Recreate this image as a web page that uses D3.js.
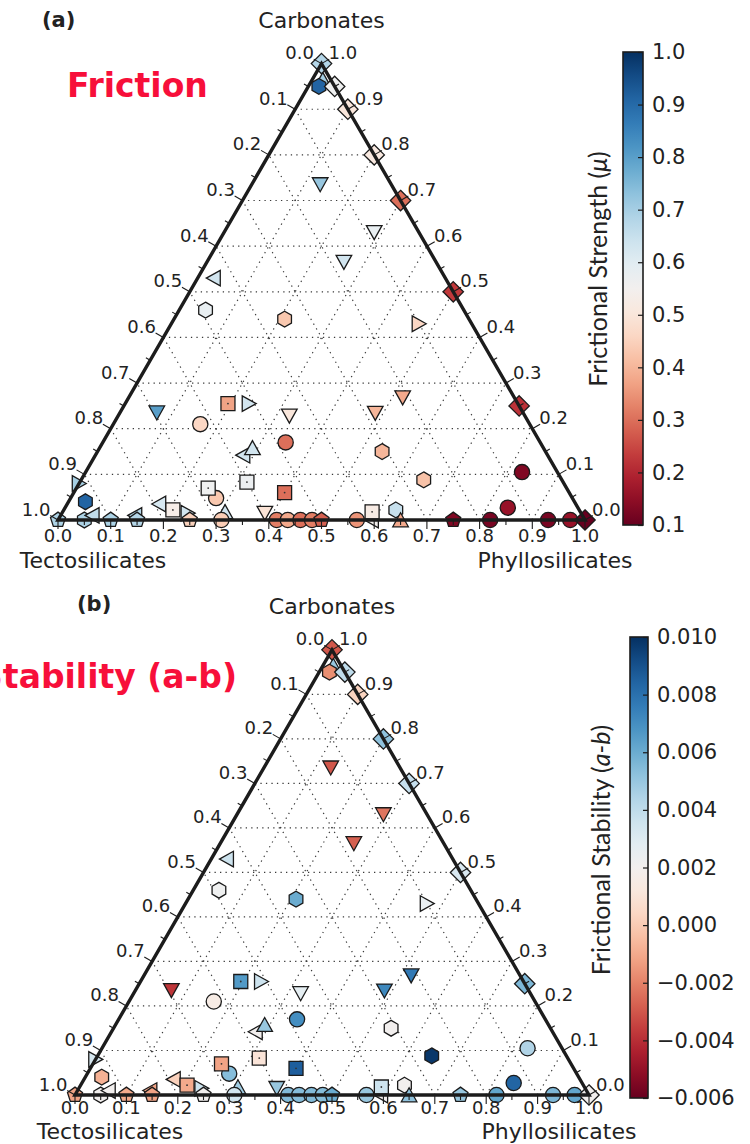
<!DOCTYPE html>
<html>
<head>
<meta charset="utf-8">
<script src="https://cdn.jsdelivr.net/npm/d3@7"></script>
<style>
  body { margin: 0; background: #fff; }
  svg { display: block; }
</style>
</head>
<body>
<svg id="fig" width="750" height="1144"></svg>
<script>
// ---- Sample compositions (fractions). Tectosilicate fraction = 1 - phyllo - carb ----
// Marker codes: o circle, s square, D diamond, ^ v < > triangles, p pentagon, h hexagon
const markers = [
  "v","v","v","<","h","h",">","v","s",">","v","v","v","o","o","<","^","h","o","h",
  "s",">","o","s","s","h","<","o","h","s",">","^","v",
  "p","h","<","p","<","p","p","o","o","o","o","o","p","o","<","s","^","p","o","o","o",
  "^","h",
  "D","D","D","D","D","D","D","D"
];
const phyllo = [
  0.13, 0.285, 0.26, 0.03, 0.05, 0.21, 0.47, 0.52, 0.195, 0.235, 0.07, 0.485, 0.325, 0.165, 0.347, 0.28, 0.29, 0.54, 0.828, 0.65,
  0.317, 0.0, 0.276, 0.25, 0.40, 0.032, 0.174, 0.84, 0.63, 0.207, 0.239, 0.308, 0.385,
  0.0, 0.05, 0.06, 0.10, 0.141, 0.15, 0.25, 0.31, 0.415, 0.436, 0.46, 0.482, 0.50, 0.567, 0.595, 0.587, 0.65, 0.75, 0.82, 0.93, 0.972,
  0.02, 0.02,
  1.0, 0.75, 0.5, 0.3, 0.2, 0.1, 0.05, 0.0
];
const carb = [
  0.735, 0.63, 0.565, 0.53, 0.46, 0.44, 0.43, 0.268, 0.255, 0.255, 0.235, 0.234, 0.228, 0.21, 0.17, 0.142, 0.158, 0.15, 0.105, 0.088,
  0.083, 0.08, 0.048, 0.07, 0.06, 0.04, 0.035, 0.027, 0.022, 0.022, 0.015, 0.018, 0.015,
  0, 0, 0.01, 0, 0.01, 0, 0, 0, 0, 0, 0, 0, 0, 0, 0, 0.018, 0, 0, 0, 0, 0,
  0.965, 0.95,
  0.0, 0.25, 0.5, 0.7, 0.8, 0.9, 0.95, 1.0
];
// Frictional strength (mu) of each sample
const frictionMu = [
  0.72, 0.58, 0.63, 0.63, 0.58, 0.43, 0.46, 0.38, 0.37, 0.63, 0.80, 0.40, 0.50, 0.46, 0.30, 0.63, 0.63, 0.40, 0.13, 0.42,
  0.57, 0.70, 0.43, 0.56, 0.30, 0.91, 0.62, 0.16, 0.65, 0.53, 0.63, 0.63, 0.49,
  0.69, 0.69, 0.66, 0.69, 0.68, 0.68, 0.45, 0.44, 0.32, 0.38, 0.30, 0.32, 0.28, 0.35, 0.55, 0.52, 0.38, 0.13, 0.12, 0.12, 0.16,
  0.70, 0.91,
  0.10, 0.22, 0.23, 0.30, 0.51, 0.50, 0.56, 0.68
];
// Frictional stability (a-b) of each sample
const stabilityAB = [
  -0.0030, -0.0023, -0.0028, 0.0036, 0.0022, 0.0060, 0.0025, 0.0077, 0.0066, 0.0036, -0.0038, 0.0072, 0.0027, 0.0015, 0.0070, 0.0020, 0.0050, 0.0020, 0.0044, 0.0098,
  0.0010, 0.0033, 0.0054, -0.0012, 0.0086, -0.0008, 0.0002, 0.0084, 0.0020, -0.0010, 0.0036, 0.0048, 0.0050,
  -0.0012, 0.0020, 0.0020, -0.0010, -0.0012, -0.0012, 0.0020, 0.0034, 0.0055, 0.0054, 0.0055, 0.0054, 0.0060, 0.0050, 0.0020, 0.0036, 0.0052, 0.0050, 0.0062, 0.0056, 0.0062,
  0.0050, -0.0017,
  0.0020, 0.0056, 0.0032, 0.0038, 0.0052, 0.0003, 0.0040, -0.0030
];

// Axis and colour-bar ticks
const ternaryTicks = d3.range(0, 11).map(i => i / 10);
const ternaryMinor = d3.range(0, 10).map(i => i / 10 + 0.05);
const muTicks = [0.1, 0.2, 0.3, 0.4, 0.5, 0.6, 0.7, 0.8, 0.9, 1.0];
const abTicks = [-0.006, -0.004, -0.002, 0.000, 0.002, 0.004, 0.006, 0.008, 0.010];

const samples = markers.map((m, i) => ({ m, P: phyllo[i], C: carb[i], mu: frictionMu[i], ab: stabilityAB[i] }));

const svg = d3.select("#fig");
const INK = "#222";
const NUM_FONT = "'DejaVu Sans', sans-serif";

// ---- marker shapes ----
function ngon(n, r) {
  return d3.range(n).map(i => {
    const a = i * 2 * Math.PI / n;
    return [r * Math.sin(a), -r * Math.cos(a)];
  });
}
const shapePts = {
  s: [[-7, -7], [7, -7], [7, 7], [-7, 7]],
  D: [[0, -10.2], [10.2, 0], [0, 10.2], [-10.2, 0]],
  "^": [[0, -7.2], [7.8, 6.8], [-7.8, 6.8]],
  "v": [[0, 7.2], [7.8, -6.8], [-7.8, -6.8]],
  "<": [[-7.2, 0], [6.8, -7.8], [6.8, 7.8]],
  ">": [[7.2, 0], [-6.8, -7.8], [-6.8, 7.8]],
  p: ngon(5, 7.9),
  h: ngon(6, 7.9)
};
const closedLine = d3.line().curve(d3.curveLinearClosed);
function markerPath(m) {
  if (m === "o") return d3.symbol().type(d3.symbolCircle).size(Math.PI * 7.6 * 7.6)();
  return closedLine(shapePts[m]);
}

function drawPanel(p) {
  const g = svg.append("g");
  const W = p.right - p.left;
  const H = W * Math.sqrt(3) / 2;
  const xs = d3.scaleLinear().domain([0, 1]).range([p.left, p.right]);
  const ys = d3.scaleLinear().domain([0, 1]).range([p.base, p.base - H]);
  const pt = (P, C) => [xs(P + C / 2), ys(C)];
  const color = d3.scaleSequential(d3.interpolateRdBu).domain(p.domain);

  // dotted grid in the three composition directions
  const levels = d3.range(1, 10).map(i => i / 10);
  const gridSegs = [];
  levels.forEach(v => {
    gridSegs.push([pt(0, v), pt(1 - v, v)]);      // constant carbonate
    gridSegs.push([pt(v, 0), pt(v, 1 - v)]);      // constant phyllosilicate
    gridSegs.push([pt(1 - v, 0), pt(0, 1 - v)]);  // constant tectosilicate
  });
  g.append("g").selectAll("line").data(gridSegs).join("line")
    .attr("x1", d => d[0][0]).attr("y1", d => d[0][1])
    .attr("x2", d => d[1][0]).attr("y2", d => d[1][1])
    .attr("stroke", "#3a3a3a").attr("stroke-width", 1.2)
    .attr("stroke-dasharray", "1.3,4.2");

  // sample markers
  const mk = g.append("g").selectAll("g").data(samples).join("g")
    .attr("transform", d => { const q = pt(d.P, d.C); return `translate(${q[0]},${q[1]})`; });
  mk.append("path")
    .attr("d", d => markerPath(d.m))
    .attr("fill", d => color(d[p.key]))
    .attr("stroke", "#1a1a1a").attr("stroke-width", 1.3)
    .attr("stroke-linejoin", "miter");
  mk.filter(d => d.m === "s").append("circle")
    .attr("r", 0.9).attr("fill", "#333");

  // triangle frame
  const BL = pt(0, 0), BR = pt(1, 0), AP = pt(0, 1);
  g.append("path")
    .attr("d", closedLine([BL, BR, AP]))
    .attr("fill", "none").attr("stroke", "#1c1c1c").attr("stroke-width", 3.4)
    .attr("stroke-linejoin", "miter");

  // ticks
  const c30 = Math.sqrt(3) / 2;
  const axes = [
    { pos: v => pt(v, 0), dir: [0, 1] },            // bottom: phyllosilicates
    { pos: v => pt(1 - v, v), dir: [c30, -0.5] },   // right: carbonates
    { pos: v => pt(0, 1 - v), dir: [-c30, -0.5] }   // left: tectosilicates
  ];
  const tickSegs = [];
  axes.forEach(ax => {
    ternaryTicks.forEach(v => { const a = ax.pos(v); tickSegs.push([a, [a[0] + ax.dir[0] * 9, a[1] + ax.dir[1] * 9]]); });
    ternaryMinor.forEach(v => { const a = ax.pos(v); tickSegs.push([a, [a[0] + ax.dir[0] * 5, a[1] + ax.dir[1] * 5]]); });
  });
  g.append("g").selectAll("line").data(tickSegs).join("line")
    .attr("x1", d => d[0][0]).attr("y1", d => d[0][1])
    .attr("x2", d => d[1][0]).attr("y2", d => d[1][1])
    .attr("stroke", "#1c1c1c").attr("stroke-width", 1.1);

  const fmt1 = d3.format(".1f");
  const tl = g.append("g").attr("font-family", NUM_FONT).attr("font-size", 18).attr("fill", INK);
  tl.selectAll("text.b").data(ternaryTicks).join("text").attr("class", "b")
    .attr("x", v => axes[0].pos(v)[0]).attr("y", p.base + p.tickDy)
    .attr("text-anchor", "middle").text(fmt1);
  tl.selectAll("text.r").data(ternaryTicks).join("text").attr("class", "r")
    .attr("x", v => axes[1].pos(v)[0] + 7).attr("y", v => axes[1].pos(v)[1] - 11)
    .attr("dominant-baseline", "central").attr("text-anchor", "start").text(fmt1);
  tl.selectAll("text.l").data(ternaryTicks).join("text").attr("class", "l")
    .attr("x", v => axes[2].pos(v)[0] - 7.5).attr("y", v => axes[2].pos(v)[1] - 11)
    .attr("dominant-baseline", "central").attr("text-anchor", "end").text(fmt1);

  // corner titles
  const tt = g.append("g").attr("font-family", NUM_FONT).attr("font-size", 22).attr("fill", INK).attr("text-anchor", "middle");
  tt.append("text").attr("x", AP[0]).attr("y", AP[1] - 36).text("Carbonates");
  tt.append("text").attr("x", BL[0] + 35).attr("y", p.base + p.titleDy).text("Tectosilicates");
  tt.append("text").attr("x", BR[0] - 30).attr("y", p.base + p.titleDy).text("Phyllosilicates");

  // panel tag
  g.append("text").attr("x", p.tagX).attr("y", p.tagY)
    .attr("font-family", NUM_FONT).attr("font-weight", "bold").attr("font-size", 21).attr("fill", INK)
    .text(p.tag);

  // red heading
  g.append("text").attr("x", p.headX).attr("y", p.headY).attr("text-anchor", p.headAnchor)
    .attr("font-family", "'Comic Sans MS', 'DejaVu Sans', sans-serif").attr("font-weight", "bold")
    .attr("font-size", 33).attr("fill", "#f70f3a")
    .text(p.heading);

  // colour bar
  const gradId = "grad-" + p.id;
  const grad = svg.append("defs").append("linearGradient").attr("id", gradId)
    .attr("x1", 0).attr("y1", 1).attr("x2", 0).attr("y2", 0);
  d3.range(0, 21).forEach(i => {
    const t = i / 20;
    grad.append("stop").attr("offset", t).attr("stop-color", d3.interpolateRdBu(t));
  });
  const b = p.bar;
  g.append("rect").attr("x", b.x).attr("y", b.top).attr("width", b.w).attr("height", b.bottom - b.top)
    .attr("fill", `url(#${gradId})`).attr("stroke", "#1c1c1c").attr("stroke-width", 1.6);
  const cs = d3.scaleLinear().domain(p.domain).range([b.bottom, b.top]);
  const cax = g.append("g").attr("transform", `translate(${b.x + b.w},0)`)
    .call(d3.axisRight(cs).tickValues(p.ticks).tickFormat(p.fmt).tickSizeInner(-5).tickSizeOuter(0).tickPadding(9));
  cax.select(".domain").remove();
  cax.selectAll(".tick line").attr("stroke", "#1c1c1c").attr("stroke-width", 1.2);
  cax.selectAll(".tick text").attr("font-family", NUM_FONT).attr("font-size", 21).attr("fill", INK);

  const lab = g.append("text")
    .attr("transform", `translate(${p.labelX},${p.labelY}) rotate(-90)`)
    .attr("text-anchor", "middle").attr("dominant-baseline", "central")
    .attr("font-family", "Lato, 'Open Sans', sans-serif").attr("font-size", 25).attr("fill", INK);
  lab.append("tspan").text(p.label[0]);
  lab.append("tspan").attr("font-style", "italic").text(p.label[1]);
  lab.append("tspan").text(p.label[2]);
}

drawPanel({
  id: "a", key: "mu", tag: "(a)", tagX: 42, tagY: 27,
  heading: "Friction", headX: 67, headY: 97, headAnchor: "start",
  left: 58, right: 585, base: 520, tickDy: 22, titleDy: 48,
  domain: [0.1, 1.0], ticks: muTicks, fmt: d3.format(".1f"),
  bar: { x: 623, w: 20, top: 52, bottom: 525 },
  labelX: 597, labelY: 269, label: ["Frictional Strength (", "\u03bc", ")"]
});

drawPanel({
  id: "b", key: "ab", tag: "(b)", tagX: 77, tagY: 611,
  heading: "Stability (a-b)", headX: 237, headY: 688, headAnchor: "end",
  left: 75, right: 589, base: 1095, tickDy: 19, titleDy: 44,
  domain: [-0.006, 0.010], ticks: abTicks, fmt: d3.format(".3f"),
  bar: { x: 630, w: 18, top: 637, bottom: 1098 },
  labelX: 600, labelY: 850, label: ["Frictional Stability (", "a-b", ")"]
});
</script>
</body>
</html>
